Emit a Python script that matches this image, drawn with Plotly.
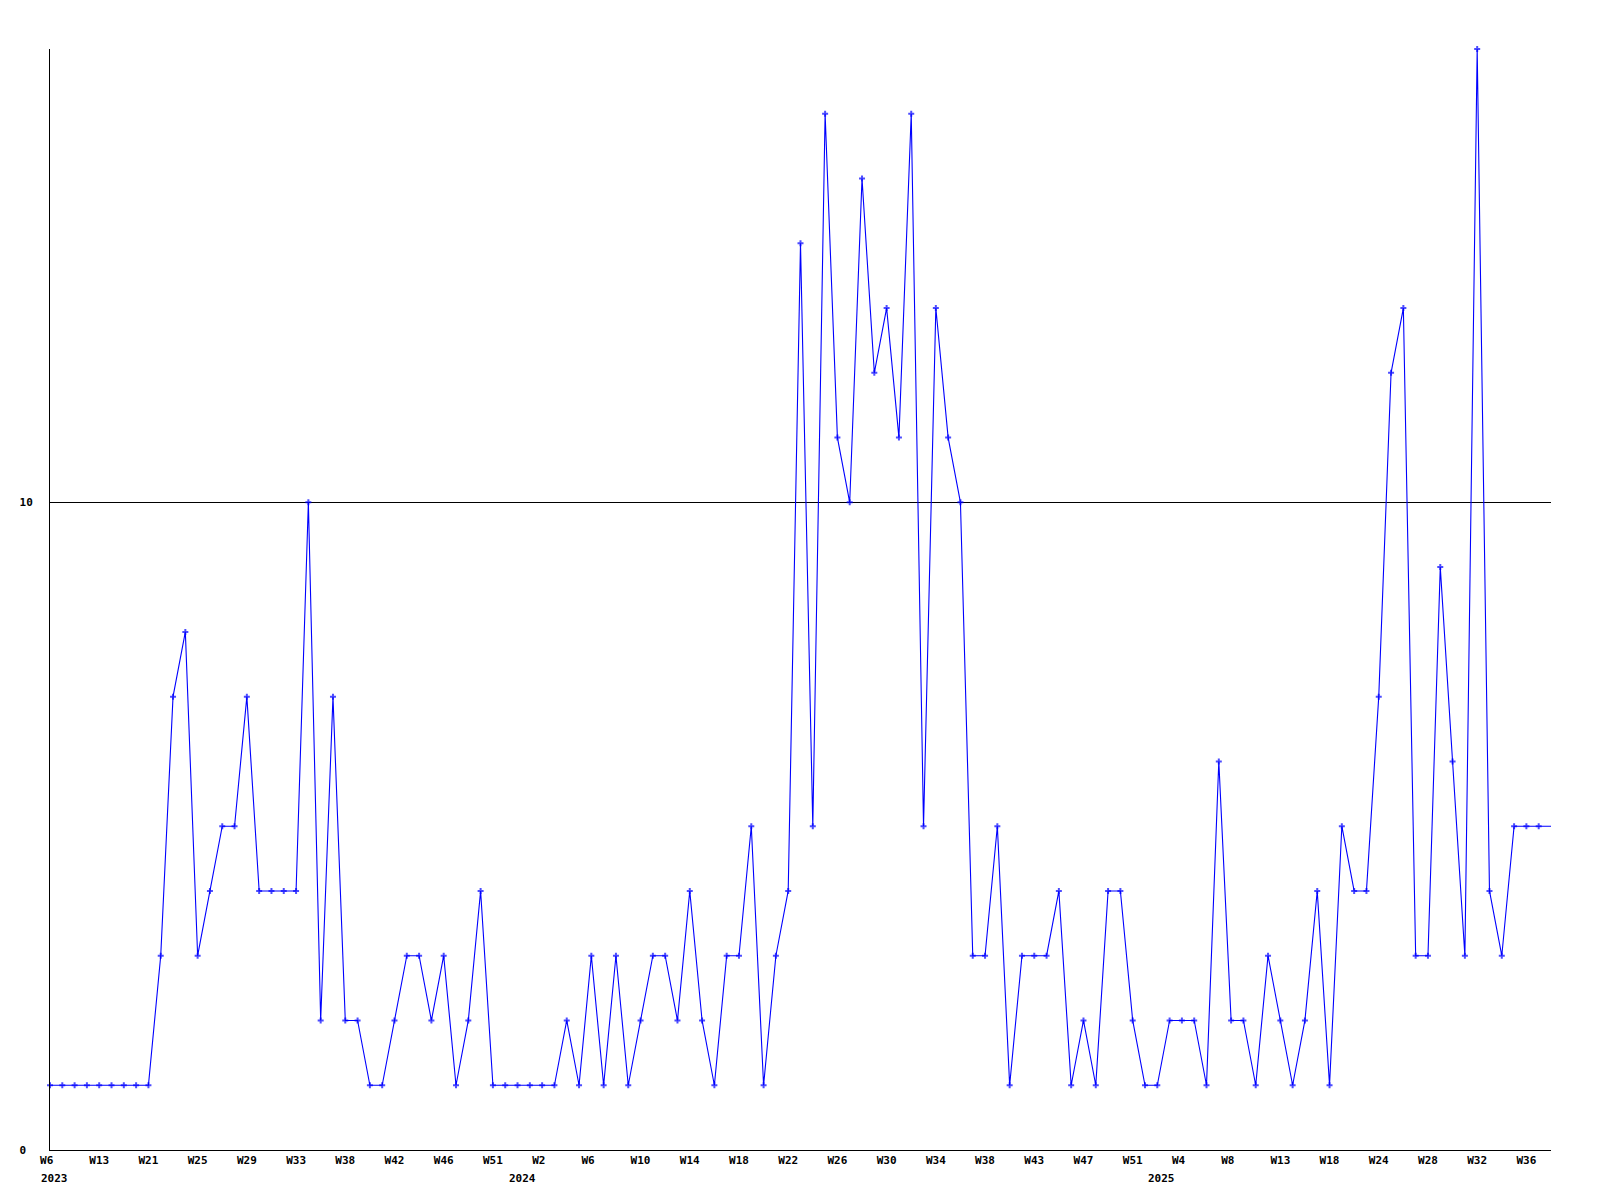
import plotly.graph_objects as go

# Weekly counts (one value per sampled week, in order)
values = [
    1, 1, 1, 1, 1, 1, 1, 1, 1, 3,
    7, 8, 3, 4, 5, 5, 7, 4, 4, 4,
    4, 10, 2, 7, 2, 2, 1, 1, 2, 3,
    3, 2, 3, 1, 2, 4, 1, 1, 1, 1,
    1, 1, 2, 1, 3, 1, 3, 1, 2, 3,
    3, 2, 4, 2, 1, 3, 3, 5, 1, 3,
    4, 14, 5, 16, 11, 10, 15, 12, 13, 11,
    16, 5, 13, 11, 10, 3, 3, 5, 1, 3,
    3, 3, 4, 1, 2, 1, 4, 4, 2, 1,
    1, 2, 2, 2, 1, 6, 2, 2, 1, 3,
    2, 1, 2, 4, 1, 5, 4, 4, 7, 12,
    13, 3, 3, 9, 6, 3, 17, 4, 3, 5,
    5, 5, 5,
]

# Week labels, shown on every 4th point
week_labels = [
    "W6", "W13", "W21", "W25", "W29", "W33", "W38", "W42", "W46", "W51",
    "W2", "W6", "W10", "W14", "W18", "W22", "W26", "W30", "W34", "W38",
    "W43", "W47", "W51",
    "W4", "W8", "W13", "W18", "W24", "W28", "W32", "W36",
]
week_step = 4

# Year labels and the point where each year starts
year_labels = ["2023", "2024", "2025"]
year_start_index = [0, 38, 90]

y_tick_values = [0, 10]
y_tick_labels = ["0\u00a0", "10"]

n = len(values)
x = list(range(n))
tickvals = [i * week_step for i in range(len(week_labels))]
ticktext = [w if len(w) > 2 else w + "\u00a0" for w in week_labels]

marker_sizes = [5] * (n - 1) + [0]

FONT = "DejaVu Sans Mono"

fig = go.Figure()
fig.add_trace(go.Scatter(
    x=x, y=values,
    mode="lines+markers",
    line=dict(color="#0000ff", width=1.1),
    marker=dict(symbol="cross", size=marker_sizes, color="#0000ff",
                line=dict(width=0)),
    cliponaxis=False,
    showlegend=False,
    hoverinfo="x+y",
))

for lab, idx in zip(year_labels, year_start_index):
    fig.add_annotation(
        x=idx, xref="x", y=0, yref="paper",
        text=lab, showarrow=False,
        xanchor="left", yanchor="top",
        xshift=-11, yshift=-20,
        font=dict(family=FONT, size=11, color="black", weight="bold"),
    )

# The page body has an 8px margin; size the figure so the plot area
# lands at the same place as in the reference.
fig.update_layout(
    width=1584, height=1184,
    margin=dict(l=42, r=41, t=41, b=42),
    paper_bgcolor="white", plot_bgcolor="white",
    font=dict(family=FONT, size=11, color="black"),
    xaxis=dict(
        range=[0, n - 1],
        tickmode="array", tickvals=tickvals, ticktext=ticktext,
        tickangle=0,
        showgrid=False, zeroline=False,
        showline=True, linecolor="black", linewidth=1,
        ticks="",
        tickfont=dict(family=FONT, size=11, color="black", weight="bold"),
        fixedrange=True,
    ),
    yaxis=dict(
        range=[0, 17],
        tickmode="array", tickvals=y_tick_values, ticktext=y_tick_labels,
        showgrid=True, gridcolor="black", gridwidth=1,
        zeroline=False,
        showline=True, linecolor="black", linewidth=1,
        ticks="", ticklabelstandoff=14,
        tickfont=dict(family=FONT, size=11, color="black", weight="bold"),
        fixedrange=True,
    ),
)

fig.write_html("out.html")
